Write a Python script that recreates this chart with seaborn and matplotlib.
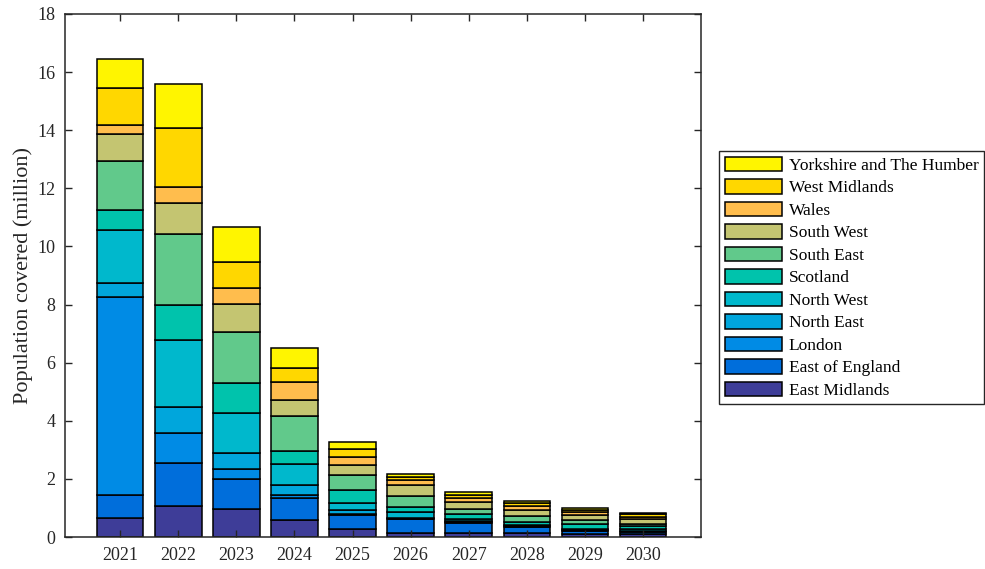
import numpy as np
import matplotlib
matplotlib.use('Agg')
import matplotlib.pyplot as plt
import seaborn as sns

years = ['2021', '2022', '2023', '2024', '2025', '2026', '2027', '2028', '2029', '2030']

# regions, bottom of the stack first
regions = ['East Midlands', 'East of England', 'London', 'North East', 'North West',
           'Scotland', 'South East', 'South West', 'Wales', 'West Midlands',
           'Yorkshire and The Humber']

east_midlands = [0.64, 1.07, 0.96, 0.58, 0.29, 0.15, 0.15, 0.13, 0.10, 0.10]
east_of_england = [0.81, 1.48, 1.05, 0.76, 0.46, 0.47, 0.33, 0.21, 0.12, 0.09]
london = [6.80, 1.04, 0.34, 0.09, 0.03, 0.01, 0.03, 0.01, 0.01, 0.01]
north_east = [0.48, 0.88, 0.53, 0.37, 0.14, 0.03, 0.03, 0.03, 0.02, 0.02]
north_west = [1.83, 2.31, 1.40, 0.71, 0.26, 0.20, 0.07, 0.03, 0.04, 0.07]
scotland = [0.69, 1.20, 1.03, 0.46, 0.45, 0.19, 0.17, 0.12, 0.16, 0.09]
south_east = [1.69, 2.45, 1.74, 1.19, 0.51, 0.37, 0.19, 0.18, 0.14, 0.08]
south_west = [0.92, 1.08, 0.96, 0.57, 0.33, 0.37, 0.24, 0.23, 0.17, 0.17]
wales = [0.32, 0.55, 0.56, 0.60, 0.29, 0.16, 0.14, 0.14, 0.10, 0.07]
west_midlands = [1.28, 2.03, 0.88, 0.47, 0.27, 0.10, 0.08, 0.08, 0.07, 0.09]
yorkshire = [1.00, 1.51, 1.23, 0.69, 0.25, 0.12, 0.13, 0.09, 0.06, 0.05]

series = [east_midlands, east_of_england, london, north_east, north_west, scotland,
          south_east, south_west, wales, west_midlands, yorkshire]

colors = ['#3E3D98', '#006EDB', '#008BE5', '#00A6DC', '#00B8CC', '#00C3AC',
          '#61C98B', '#C4C571', '#FFBD4D', '#FFD700', '#FFF500']

plt.rcParams['font.family'] = ['Liberation Serif', 'DejaVu Serif']
ink = '#262626'

fig = plt.figure(figsize=(9.85, 5.69), dpi=100)
ax = fig.add_axes([0.066, 0.0562, 0.6457, 0.9192])

bottom = np.zeros(len(years))
for name, vals, col in zip(regions, series, colors):
    sns.barplot(x=years, y=vals, bottom=bottom, color=col, edgecolor='black',
                linewidth=1.1, width=0.8, errorbar=None, saturation=1,
                label=name, ax=ax)
    bottom += np.array(vals)

ax.set_xlim(-0.95, 10.0)
ax.set_ylim(0, 18)
ax.set_yticks(range(0, 19, 2))
ax.set_ylabel('Population covered (million)', fontsize=16, color=ink, labelpad=3)
ax.set_xlabel('')
ax.tick_params(direction='in', length=5, width=1, colors=ink, labelsize=13,
               top=True, right=True, pad=7)
for s in ax.spines.values():
    s.set_color(ink)
    s.set_linewidth(1.1)

handles, labels = ax.get_legend_handles_labels()
leg = ax.legend(handles[::-1], labels[::-1], loc='upper left',
                bbox_to_anchor=(719 / 985, 1 - 151 / 569), bbox_transform=fig.transFigure,
                fontsize=12.5, frameon=True, fancybox=False, framealpha=1,
                handlelength=3.3, handleheight=0.92, labelspacing=0.30,
                handletextpad=0.4, borderpad=0.32, borderaxespad=0)
leg.get_frame().set_edgecolor(ink)
leg.get_frame().set_linewidth(1.0)

fig.savefig('out.png', dpi=100)
